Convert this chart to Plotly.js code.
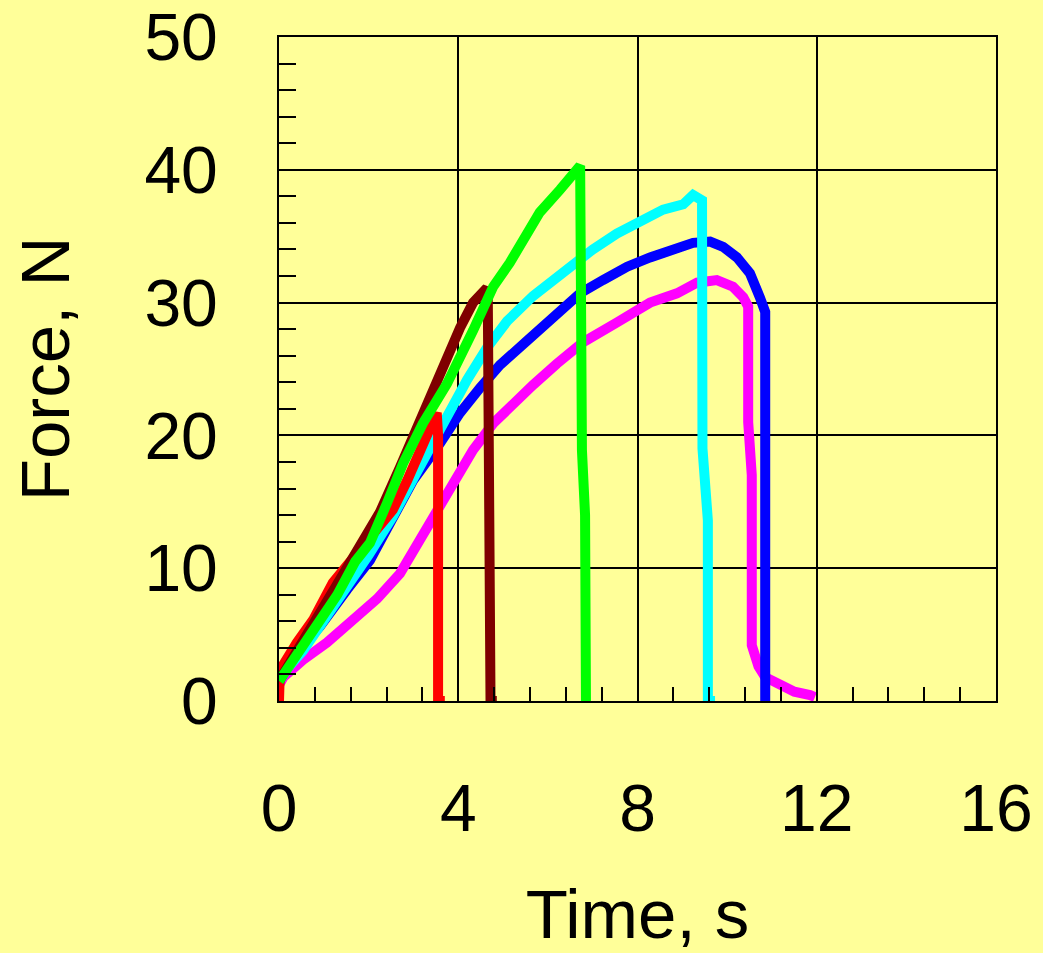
<!DOCTYPE html>
<html>
<head>
<meta charset="utf-8">
<script src="https://cdn.plot.ly/plotly-3.0.1.min.js"></script>
<style>html,body{margin:0;padding:0;background:#FFFF99;}</style>
</head>
<body>
<div id="chart" style="width:1043px;height:953px;"></div>
<script>
// Data (Time in s, Force in N)
const redT = [0, 0.02, 0.4, 0.76, 1.2, 1.58, 2.0, 2.54, 2.86, 3.08, 3.3, 3.45, 3.52, 3.55, 3.55, 3.7];
const redF = [0, 2.3, 4.4, 6.1, 8.9, 10.4, 12.3, 14.4, 16.6, 18.4, 19.9, 21.2, 21.7, 20, 0, 0];

const brownT = [0, 0.3, 0.8, 1.3, 1.8, 2.25, 2.7, 3.15, 3.59, 4.04, 4.33, 4.5, 4.64, 4.66, 4.68, 4.72, 4.72, 4.86];
const brownF = [1.5, 3.3, 6, 8.8, 11.5, 14.2, 17.6, 21.2, 24.7, 28.1, 30, 30.6, 31.1, 30, 16, 11, 0, 0];

const greenT = [0, 0.3, 0.8, 1.3, 1.7, 2.03, 2.41, 2.77, 3.21, 3.75, 4.33, 4.78, 5.15, 5.5, 5.82, 6.27, 6.55, 6.72, 6.74, 6.76, 6.83, 6.85, 6.85];
const greenF = [1.5, 3, 5.5, 8, 10.5, 11.9, 14.9, 17.9, 20.9, 23.9, 27.9, 31.2, 33, 35, 36.8, 38.5, 39.8, 40.3, 30, 18.9, 14, 5, 0];

const cyanT = [0, 0.2, 0.54, 1.0, 1.5, 2.0, 2.54, 2.86, 3.3, 3.75, 4.2, 4.64, 5.09, 5.67, 6.05, 6.42, 7.0, 7.54, 8.06, 8.57, 9.02, 9.15, 9.24, 9.44, 9.44, 9.45, 9.57, 9.57, 9.73];
const cyanF = [1.5, 2.5, 3.8, 6, 8.5, 11, 13.9, 15.9, 18.9, 21.6, 24.2, 26.6, 28.6, 30.5, 31.5, 32.6, 34, 35.2, 36.2, 37, 37.4, 37.8, 38.1, 37.7, 30, 19, 13.6, 0, 0];

const blueT = [0, 0.02, 0.31, 0.91, 1.52, 2.03, 2.19, 2.54, 2.99, 3.59, 4.04, 4.49, 4.93, 5.53, 6.05, 6.27, 6.72, 7.23, 7.77, 8.28, 8.88, 9.24, 9.62, 9.91, 10.22, 10.51, 10.73, 10.85, 10.85];
const blueF = [1.2, 1.8, 3.3, 5.6, 8.4, 10.6, 11.6, 13.7, 16.6, 19.4, 21.7, 23.6, 25.3, 27.1, 28.6, 29.3, 30.7, 31.7, 32.7, 33.4, 34.1, 34.5, 34.6, 34.2, 33.4, 32.2, 30.4, 29.3, -0.5];

const magentaT = [0, 0, 0.1, 0.54, 1.07, 1.65, 2.19, 2.7, 2.99, 3.44, 3.88, 4.33, 4.78, 5.22, 5.67, 6.2, 6.78, 7.54, 8.28, 8.88, 9.33, 9.77, 10.13, 10.36, 10.47, 10.47, 10.55, 10.55, 10.7, 10.85, 11.18, 11.5, 11.85, 11.96];
const magentaF = [0, 1.2, 1.8, 3.1, 4.4, 6.0, 7.7, 9.6, 11.2, 13.9, 16.4, 18.9, 20.9, 22.4, 23.8, 25.4, 27, 28.5, 30, 30.7, 31.5, 31.7, 31.2, 30.4, 29.7, 21, 17, 4.2, 2.6, 1.8, 1.2, 0.7, 0.45, 0.3];

const xTicks = [0, 4, 8, 12, 16];
const yTicks = [0, 10, 20, 30, 40, 50];

function series(x, y, color) {
  return {x: x, y: y, type: 'scatter', mode: 'lines',
          line: {color: color, width: 10}, showlegend: false, hoverinfo: 'skip', cliponaxis: false};
}

const traces = [
  series(magentaT, magentaF, '#FF00FF'),
  series(blueT, blueF, '#0000FF'),
  series(cyanT, cyanF, '#00FFFF'),
  series(redT, redF, '#FF0000'),
  series(brownT, brownF, '#7F0000'),
  series(greenT, greenF, '#00FF00')
];

const fontFam = 'Liberation Sans, Arial, sans-serif';

const layout = {
  width: 1043, height: 953,
  paper_bgcolor: '#FFFF99', plot_bgcolor: '#FFFF99',
  margin: {l: 279, r: 47, t: 37, b: 252},
  font: {family: fontFam, color: '#000000', size: 66},
  showlegend: false,
  xaxis: {
    range: [0, 16], tickvals: xTicks, ticktext: xTicks.map(String),
    showgrid: true, gridcolor: '#000000', gridwidth: 2,
    showline: true, linecolor: '#000000', linewidth: 2, mirror: true,
    zeroline: false,
    ticks: 'inside', ticklen: 20, tickwidth: 2, tickcolor: '#000000',
    ticklabelstandoff: 49, ticklabeloverflow: 'allow',
    tickfont: {family: fontFam, size: 66, color: '#000000'},
    minor: {dtick: 0.8, tick0: 0, ticks: 'inside', ticklen: 14, tickwidth: 2, tickcolor: '#000000', showgrid: false},
    title: {text: 'Time, s', font: {family: fontFam, size: 69, color: '#000000'}, standoff: 62}
  },
  yaxis: {
    range: [0, 50], tickvals: yTicks, ticktext: yTicks.map(String),
    showgrid: true, gridcolor: '#000000', gridwidth: 2,
    showline: true, linecolor: '#000000', linewidth: 2, mirror: true,
    zeroline: false,
    ticks: 'inside', ticklen: 25, tickwidth: 2, tickcolor: '#000000',
    ticklabelstandoff: 46, ticklabeloverflow: 'allow',
    tickfont: {family: fontFam, size: 66, color: '#000000'},
    minor: {dtick: 2, tick0: 0, ticks: 'inside', ticklen: 17, tickwidth: 2, tickcolor: '#000000', showgrid: false},
    title: {text: 'Force, N', font: {family: fontFam, size: 69, color: '#000000'}, standoff: 52}
  }
};

Plotly.newPlot('chart', traces, layout, {displayModeBar: false, staticPlot: true});
</script>
</body>
</html>
